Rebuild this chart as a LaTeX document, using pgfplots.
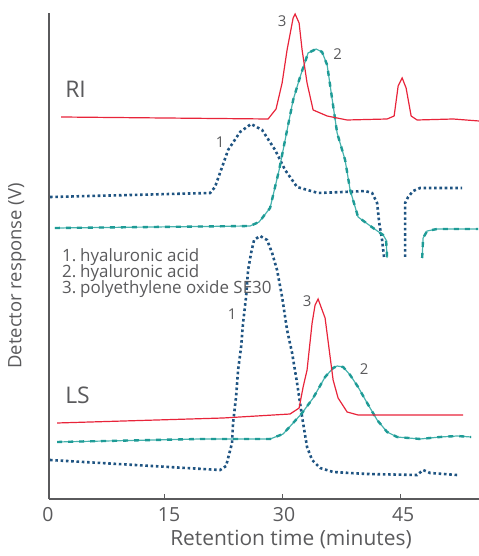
\documentclass[border=0pt]{standalone}
\usepackage{fontspec}
\setmainfont{Open Sans}
\usepackage{pgfplots}
\pgfplotsset{compat=1.18}
\definecolor{rired}{RGB}{232,36,58}
\definecolor{dblue}{RGB}{31,84,130}
\definecolor{tealdk}{RGB}{30,155,150}
\definecolor{teallt}{RGB}{70,178,173}
\definecolor{txtgray}{RGB}{90,90,92}
\begin{document}
\begin{tikzpicture}
\begin{axis}[name=ax, scale only axis, width=430bp, height=486bp,
  xmin=0.38, xmax=55.0, ymin=0, ymax=486,
  axis lines*=left, axis line style={txtgray, line width=1.2bp},
  xtick={15,30,45}, xticklabels={}, ytick=\empty,
  tick align=inside, major tick length=5bp, tick style={txtgray, line width=1bp},
  clip=false, unbounded coords=jump]

% ---------- RI: 1 hyaluronic acid (blue dotted)
\addplot[dblue, line width=2.6bp, dash pattern=on 2.6bp off 2.7bp] coordinates {
(0.51,302)(20.84,306)(21.47,312)(23.13,349)(24.65,367)(26.05,375)(27.45,369)(29.10,349)
(30.37,329)(31.89,312)(34.56,306)(37.74,307)(40.53,308)(41.42,306)(42.06,296)(42.31,277)
(42.69,259)(42.95,241)(44.3,nan)(45.62,242)(45.62,296)(46.0,302)(46.63,308)(47.52,311)(52.86,311)};

% ---------- RI: 2 hyaluronic acid (teal)
\addplot[teallt, line width=1.2bp] coordinates {
(1.14,271)(25.92,273)(27.06,277)(28.46,291)(29.61,329)(31.39,399)(32.27,422)(33.29,446)
(34.31,450)(35.07,447)(35.71,434)(36.98,366)(37.99,339)(38.63,309)(39.64,282)(41.55,271)
(42.82,264)(43.20,259)(43.33,241)(45.5,nan)(47.78,241)(47.90,261)(48.41,268)(49.68,270)(54.9,270)};
\addplot[tealdk, line width=2.4bp, dash pattern=on 5bp off 6bp] coordinates {
(1.14,271)(25.92,273)(27.06,277)(28.46,291)(29.61,329)(31.39,399)(32.27,422)(33.29,446)
(34.31,450)(35.07,447)(35.71,434)(36.98,366)(37.99,339)(38.63,309)(39.64,282)(41.55,271)
(42.82,264)(43.20,259)(43.33,241)(45.5,nan)(47.78,241)(47.90,261)(48.41,268)(49.68,270)(54.9,270)};

% ---------- RI: 3 polyethylene oxide SE30 (red)
\addplot[rired, line width=1.2bp] coordinates {
(1.91,382)(28.21,380)(29.22,390)(29.99,416)(30.62,449)(31.39,481)(31.64,485)(32.15,476)
(32.53,449)(33.16,416)(33.93,389)(35.71,383)(38.25,379)(43.33,380)(44.22,383)(44.73,413)
(45.24,421)(45.74,411)(46.38,383)(47.14,379)(51.72,380)(55.0,378)};

% ---------- LS: 1 hyaluronic acid (blue dotted)
\addplot[dblue, line width=2.6bp, dash pattern=on 2.6bp off 2.7bp] coordinates {
(0.51,39)(22.11,29)(22.87,33)(23.63,56)(23.76,76)(24.14,102)(24.40,129)(24.78,152)
(25.03,176)(25.41,202)(25.67,229)(26.05,246)(26.43,259)(27.19,263)(28.08,259)(28.72,246)
(29.35,229)(29.99,202)(30.62,169)(31.26,146)(31.89,116)(32.53,82)(33.16,52)(33.80,39)
(34.82,31)(36.47,27)(40.79,25)(47.14,24)(47.90,29)(48.79,26)(52.22,24)};

% ---------- LS: 2 hyaluronic acid (teal)
\addplot[teallt, line width=1.2bp] coordinates {
(1.40,57)(19.57,60)(28.46,60)(30.11,65)(31.39,76)(32.53,86)(33.93,101)(35.45,122)
(36.47,131)(36.98,133)(37.74,132)(38.63,124)(39.64,112)(40.79,96)(42.06,79)(43.33,67)
(44.60,62)(47.52,60)(50.06,62)(52.22,63)(54.0,62)};
\addplot[tealdk, line width=2.4bp, dash pattern=on 5bp off 6bp] coordinates {
(1.40,57)(19.57,60)(28.46,60)(30.11,65)(31.39,76)(32.53,86)(33.93,101)(35.45,122)
(36.47,131)(36.98,133)(37.74,132)(38.63,124)(39.64,112)(40.79,96)(42.06,79)(43.33,67)
(44.60,62)(47.52,60)(50.06,62)(52.22,63)(54.0,62)};

% ---------- LS: 3 polyethylene oxide SE30 (red)
\addplot[rired, line width=1.2bp] coordinates {
(1.40,76)(22.49,81)(31.0,85)(32.15,91)(32.66,112)(33.16,129)(33.80,176)(34.18,194)
(34.56,200)(35.45,181)(36.09,142)(36.47,119)(37.10,101)(38.25,87)(39.64,84)(52.99,84)};

% ---------- text
\node[anchor=base, text=txtgray, font=\fontsize{19.5}{22}\selectfont] at (axis cs:0.25,-22) {0};
\node[anchor=base, text=txtgray, font=\fontsize{19.5}{22}\selectfont] at (axis cs:15.63,-22) {15};
\node[anchor=base, text=txtgray, font=\fontsize{19.5}{22}\selectfont] at (axis cs:30.24,-22) {30};
\node[anchor=base, text=txtgray, font=\fontsize{19.5}{22}\selectfont] at (axis cs:45.36,-22) {45};
\node[anchor=base, text=txtgray, font=\fontsize{21}{24}\selectfont] at (axis cs:31.12,-46) {Retention time (minutes)};
\node[rotate=90, anchor=center, text=txtgray, font=\fontsize{18.5}{21}\selectfont] at (axis cs:-3.68,223) {Detector response (V)};

\node[anchor=base west, text=txtgray, font=\fontsize{23}{26}\selectfont] at (axis cs:2.0,401) {RI};
\node[anchor=base west, text=txtgray, font=\fontsize{23}{26}\selectfont] at (axis cs:2.0,95) {LS};

\node[anchor=base west, text=txtgray, font=\fontsize{17}{19}\selectfont, inner sep=0pt] at (axis cs:2.03,237) {1.};
\node[anchor=base west, text=txtgray, font=\fontsize{17}{19}\selectfont, inner sep=0pt] at (axis cs:2.03,221) {2.};
\node[anchor=base west, text=txtgray, font=\fontsize{17}{19}\selectfont, inner sep=0pt] at (axis cs:2.03,205) {3.};
\node[anchor=base west, text=txtgray, font=\fontsize{17}{19}\selectfont, inner sep=0pt] at (axis cs:4.32,237) {hyaluronic acid};
\node[anchor=base west, text=txtgray, font=\fontsize{17}{19}\selectfont, inner sep=0pt] at (axis cs:4.32,221) {hyaluronic acid};
\node[anchor=base west, text=txtgray, font=\fontsize{17}{19}\selectfont, inner sep=0pt] at (axis cs:4.32,205) {polyethylene oxide SE30};

\node[text=txtgray, font=\fontsize{15}{17}\selectfont, inner sep=0pt] at (axis cs:29.99,477.5) {3};
\node[text=txtgray, font=\fontsize{15}{17}\selectfont, inner sep=0pt] at (axis cs:37.04,445) {2};
\node[text=txtgray, font=\fontsize{15}{17}\selectfont, inner sep=0pt] at (axis cs:22.11,357) {1};
\node[text=txtgray, font=\fontsize{15}{17}\selectfont, inner sep=0pt] at (axis cs:23.63,184.5) {1};
\node[text=txtgray, font=\fontsize{15}{17}\selectfont, inner sep=0pt] at (axis cs:33.16,198) {3};
\node[text=txtgray, font=\fontsize{15}{17}\selectfont, inner sep=0pt] at (axis cs:40.41,130) {2};
\end{axis}
\pgfresetboundingbox
\path ([shift={(-49bp,-57bp)}]ax.south west) rectangle ([shift={(430bp,499bp)}]ax.south west);
\end{tikzpicture}
\end{document}
